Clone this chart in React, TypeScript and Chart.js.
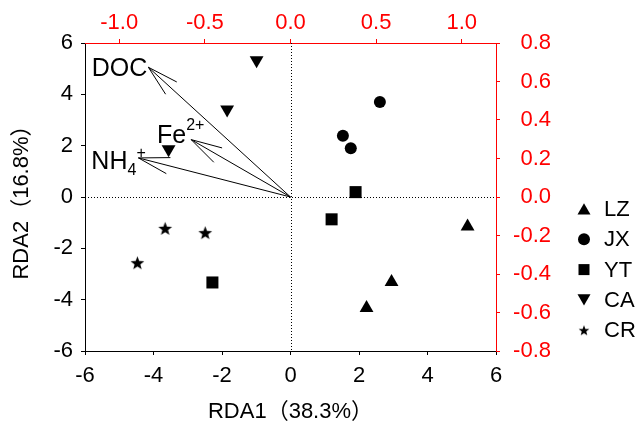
import React, { useEffect, useRef } from 'react';
import { Chart, registerables } from 'chart.js';

Chart.register(...registerables);

// ---------- data ----------
const groupNames = ['LZ', 'JX', 'YT', 'CA', 'CR'];
const lzX = [5.17, 2.95, 2.22];
const lzY = [-1.15, -3.31, -4.32];
const jxX = [2.61, 1.53, 1.76];
const jxY = [3.7, 2.39, 1.9];
const ytX = [1.9, 1.2, -2.28];
const ytY = [0.19, -0.87, -3.33];
const caX = [-0.99, -1.85, -3.56];
const caY = [5.33, 3.41, 1.86];
const crX = [-3.66, -2.49, -4.47];
const crY = [-1.22, -1.39, -2.56];

const envNames = ['DOC', 'Fe2+', 'NH4+'];
const envX = [-0.83, -0.58, -0.888];
const envY = [0.674, 0.298, 0.203];

const xTitle = 'RDA1（38.3%）';
const yTitle = 'RDA2（16.8%）';

const FONT = "'Liberation Sans', Arial, 'Noto Sans CJK SC', sans-serif";
const RED = '#ff0000';

function makeStar(outer: number): HTMLCanvasElement {
  const size = Math.ceil(outer * 2 + 2);
  const c = document.createElement('canvas');
  c.width = size;
  c.height = size;
  const g = c.getContext('2d')!;
  const cx = size / 2, cy = size / 2 + outer * 0.1;
  const inner = outer * 0.42;
  g.beginPath();
  for (let i = 0; i < 10; i++) {
    const r = i % 2 === 0 ? outer : inner;
    const a = -Math.PI / 2 + (i * Math.PI) / 5;
    const px = cx + r * Math.cos(a);
    const py = cy + r * Math.sin(a);
    if (i === 0) g.moveTo(px, py);
    else g.lineTo(px, py);
  }
  g.closePath();
  g.fillStyle = '#000';
  g.fill();
  return c;
}

function pts(xs: number[], ys: number[]) {
  return xs.map((x, i) => ({ x, y: ys[i] }));
}

function drawMarker(ctx: CanvasRenderingContext2D, kind: string, x: number, y: number, star: HTMLCanvasElement) {
  ctx.save();
  ctx.fillStyle = '#000';
  ctx.beginPath();
  if (kind === 'up' || kind === 'down') {
    const r = 7.5;
    const s = kind === 'up' ? 1 : -1;
    const cy = y + s * 1.8;
    ctx.moveTo(x, cy - s * r);
    ctx.lineTo(x + r * Math.sin((2 * Math.PI) / 3), cy + s * r * 0.5);
    ctx.lineTo(x - r * Math.sin((2 * Math.PI) / 3), cy + s * r * 0.5);
    ctx.closePath();
    ctx.fill();
  } else if (kind === 'circle') {
    ctx.arc(x, y, 6, 0, Math.PI * 2);
    ctx.fill();
  } else if (kind === 'rect') {
    ctx.rect(x - 5.5, y - 5.5, 11, 11);
    ctx.fill();
  } else if (kind === 'star') {
    ctx.drawImage(star, x - star.width / 2, y - star.height / 2);
  }
  ctx.restore();
}

export default function App() {
  const ref = useRef<HTMLCanvasElement>(null);

  useEffect(() => {
    const canvas = ref.current!;
    const starPt = makeStar(7.2);
    const starLegend = makeStar(5.6);
    const kinds = ['up', 'circle', 'rect', 'down', 'star'];

    const datasets = [
      { label: groupNames[0], data: pts(lzX, lzY), pointStyle: 'triangle' as any, pointRadius: 8, pointRotation: 0 },
      { label: groupNames[1], data: pts(jxX, jxY), pointStyle: 'circle' as any, pointRadius: 6, pointRotation: 0 },
      { label: groupNames[2], data: pts(ytX, ytY), pointStyle: 'rect' as any, pointRadius: 8.5, pointRotation: 0 },
      { label: groupNames[3], data: pts(caX, caY), pointStyle: 'triangle' as any, pointRadius: 8, pointRotation: 180 },
      { label: groupNames[4], data: pts(crX, crY), pointStyle: starPt as any, pointRadius: 7, pointRotation: 0 },
    ].map((d) => ({
      ...d,
      backgroundColor: '#000',
      borderColor: '#000',
      pointBackgroundColor: '#000',
      pointBorderWidth: 0,
      showLine: false,
    }));

    const overlay = {
      id: 'overlay',
      beforeDatasetsDraw(chart: any) {
        const { ctx, chartArea: a, scales } = chart;
        const x0 = Math.round(scales.x.getPixelForValue(0)) + 0.5;
        const y0 = Math.round(scales.y.getPixelForValue(0)) + 0.5;
        ctx.save();
        ctx.strokeStyle = '#000';
        ctx.lineWidth = 1;
        ctx.setLineDash([1, 2]);
        ctx.beginPath();
        ctx.moveTo(x0, a.top);
        ctx.lineTo(x0, a.bottom);
        ctx.moveTo(a.left, y0);
        ctx.lineTo(a.right, y0);
        ctx.stroke();
        ctx.restore();

        // arrows
        const ox = scales.x2.getPixelForValue(0);
        const oy = scales.y2.getPixelForValue(0);
        ctx.save();
        ctx.strokeStyle = '#000';
        ctx.lineWidth = 1;
        envX.forEach((vx, i) => {
          const tx = scales.x2.getPixelForValue(vx);
          const ty = scales.y2.getPixelForValue(envY[i]);
          const ang = Math.atan2(oy - ty, ox - tx);
          const hl = 32;
          const ha = (15 * Math.PI) / 180;
          ctx.beginPath();
          ctx.moveTo(ox, oy);
          ctx.lineTo(tx, ty);
          ctx.moveTo(tx, ty);
          ctx.lineTo(tx + hl * Math.cos(ang + ha), ty + hl * Math.sin(ang + ha));
          ctx.moveTo(tx, ty);
          ctx.lineTo(tx + hl * Math.cos(ang - ha), ty + hl * Math.sin(ang - ha));
          ctx.stroke();
        });
        ctx.restore();

        // labels
        ctx.save();
        ctx.fillStyle = '#000';
        ctx.textBaseline = 'alphabetic';
        const big = `25px ${FONT}`;
        const small = `16px ${FONT}`;
        // DOC
        {
          const tx = scales.x2.getPixelForValue(envX[0]);
          const ty = scales.y2.getPixelForValue(envY[0]);
          ctx.font = big;
          ctx.textAlign = 'right';
          ctx.fillText('DOC', tx - 1, ty + 8.5);
        }
        // Fe2+
        {
          const tx = scales.x2.getPixelForValue(envX[1]);
          const ty = scales.y2.getPixelForValue(envY[1]);
          ctx.font = big;
          ctx.textAlign = 'right';
          ctx.fillText('Fe', tx - 5, ty + 3.5);
          ctx.font = small;
          ctx.textAlign = 'left';
          ctx.fillText('2+', tx - 5, ty - 9.5);
        }
        // NH4+
        {
          const tx = scales.x2.getPixelForValue(envX[2]);
          const ty = scales.y2.getPixelForValue(envY[2]);
          ctx.font = big;
          ctx.textAlign = 'right';
          ctx.fillText('NH', tx - 11, ty + 11.5);
          ctx.font = small;
          ctx.textAlign = 'left';
          ctx.fillText('4', tx - 11, ty + 17.5);
          ctx.fillText('+', tx - 2, ty);
        }
        ctx.restore();
      },
      afterDraw(chart: any) {
        const { ctx } = chart;
        ctx.save();
        chart.data.datasets.forEach((ds: any, i: number) => {
          const y = 209 + i * 30.3;
          drawMarker(ctx, kinds[i], 584, y, starLegend);
          ctx.font = `22px ${FONT}`;
          ctx.fillStyle = '#000';
          ctx.textAlign = 'left';
          ctx.textBaseline = 'middle';
          ctx.fillText(ds.label, 604, y + 1);
        });
        ctx.restore();
      },
    };

    const fmt1 = (v: any) => (Math.abs(Number(v)) < 1e-9 ? '0.0' : Number(v).toFixed(1));

    const chart = new Chart(canvas, {
      type: 'scatter',
      data: { datasets: datasets as any },
      options: {
        animation: false,
        responsive: false,
        devicePixelRatio: 1,
        layout: { padding: { left: 0, top: 0, bottom: 0, right: 93 } },
        plugins: { legend: { display: false }, tooltip: { enabled: false } },
        font: { family: FONT } as any,
        scales: {
          x: {
            type: 'linear',
            position: 'bottom',
            min: -6,
            max: 6,
            ticks: { stepSize: 2, color: '#000', font: { size: 22, family: FONT }, padding: 8 },
            grid: { display: true, drawOnChartArea: false, drawTicks: true, tickLength: 4, color: '#000' },
            border: { display: true, color: '#000', width: 1 },
            title: { display: true, text: xTitle, color: '#000', font: { size: 22, family: FONT }, padding: { top: 0, bottom: 6 } },
            afterFit: (s: any) => { s.height = 80; },
          },
          y: {
            type: 'linear',
            position: 'left',
            min: -6,
            max: 6,
            ticks: { stepSize: 2, color: '#000', font: { size: 22, family: FONT }, padding: 8 },
            grid: { display: true, drawOnChartArea: false, drawTicks: true, tickLength: 4, color: '#000' },
            border: { display: true, color: '#000', width: 1 },
            title: { display: true, text: yTitle, color: '#000', font: { size: 22, family: FONT }, padding: { top: 9, bottom: 0 } },
            afterFit: (s: any) => { s.width = 85; },
          },
          x2: {
            type: 'linear',
            position: 'top',
            min: -1.2,
            max: 1.2,
            ticks: { stepSize: 0.5, includeBounds: false, color: RED, font: { size: 22, family: FONT }, padding: 3, callback: fmt1 },
            grid: { display: true, drawOnChartArea: false, drawTicks: true, tickLength: 4, color: RED },
            border: { display: true, color: RED, width: 1 },
            afterFit: (s: any) => { s.height = 43; },
          },
          y2: {
            type: 'linear',
            position: 'right',
            min: -0.8,
            max: 0.8,
            ticks: { stepSize: 0.2, includeBounds: false, color: RED, font: { size: 22, family: FONT }, padding: 7, crossAlign: 'far', callback: fmt1 },
            grid: { display: true, drawOnChartArea: false, drawTicks: true, tickLength: 4, color: RED },
            border: { display: true, color: RED, width: 1 },
            afterFit: (s: any) => { s.width = 55; },
          },
        },
      } as any,
      plugins: [overlay],
    });

    return () => chart.destroy();
  }, []);

  return (
    <div style={{ position: 'fixed', left: 0, top: 0, width: 644, height: 431, background: '#fff' }}>
      <canvas ref={ref} width={644} height={431} style={{ display: 'block', width: 644, height: 431 }} />
    </div>
  );
}
